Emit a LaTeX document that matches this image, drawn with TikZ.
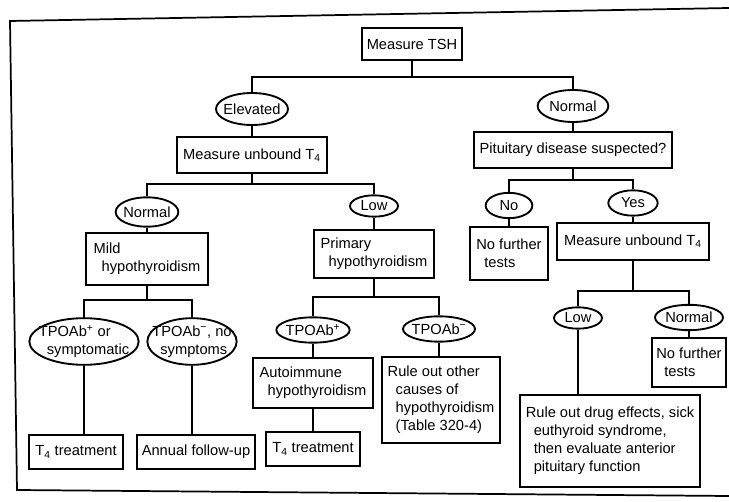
\documentclass[tikz,border=0pt]{standalone}
\usepackage{fontspec}
\setmainfont{Liberation Sans}
\usetikzlibrary{shapes.geometric}
\newcommand{\ind}{\hspace*{6pt}}

\begin{document}
\begin{tikzpicture}[x=0.75pt,y=-0.75pt,
 font=\fontsize{11}{13.5}\selectfont, line width=1.3pt,
 box/.style={draw, rectangle, align=left, inner sep=2pt, line width=1.4pt},
 oval/.style={draw, ellipse, align=left, inner xsep=-30pt, inner ysep=-15pt, line width=1.4pt}]
\useasboundingbox (0,0) rectangle (729,502);
%外枠
\draw[line width=1.3pt] (729,8) -- (10,21) -- (17,490) -- (729,496);

\node[box, minimum width=75pt, minimum height=24pt] (tsh) at (412,44) {Measure TSH};
\node[oval, minimum width=54pt, minimum height=24pt] (elev) at (252,109) {Elevated};
\node[oval, minimum width=53pt, minimum height=24pt] (nrmB) at (573,106) {Normal};
\node[box, minimum width=112pt, minimum height=27pt] (unbA) at (252,155) {Measure unbound T\textsubscript{4}};
\node[box, minimum width=148pt, minimum height=27pt] (pit) at (573,150) {Pituitary disease suspected?};

\node[oval, minimum width=47pt, minimum height=22pt] (nrmA) at (147,212) {Normal};
\node[oval, minimum width=36pt, minimum height=16pt] (lowA) at (374,206) {Low};
\node[oval, minimum width=35pt, minimum height=19pt] (no) at (509,205.5) {No};
\node[oval, minimum width=37pt, minimum height=19pt] (yes) at (633,203) {Yes};

\node[box, minimum width=91pt, minimum height=39pt] (mild) at (147,259) {Mild\\\ind hypothyroidism};
\node[box, minimum width=90pt, minimum height=36pt] (prim) at (374,254) {Primary\\\ind hypothyroidism};
\node[box, minimum width=58.5pt, minimum height=40pt] (nftA) at (509,253.5) {No further\\\ind tests};
\node[box, minimum width=114pt, minimum height=28pt] (unbB) at (633,241.5) {Measure unbound T\textsubscript{4}};

\node[oval, minimum width=82pt, minimum height=35pt] (tpoA) at (84,341.5) {TPOAb\textsuperscript{+} or\\\ind symptomatic};
\node[oval, minimum width=67pt, minimum height=35pt] (tpoB) at (192,341.5) {TPOAb\textsuperscript{−}, no\\\ind symptoms};
\node[oval, minimum width=55pt, minimum height=19pt] (tpoC) at (313,330) {TPOAb\textsuperscript{+}};
\node[oval, minimum width=54pt, minimum height=19pt] (tpoD) at (439,329) {TPOAb\textsuperscript{−}};
\node[oval, minimum width=36pt, minimum height=16pt] (lowB) at (578,318) {Low};
\node[oval, minimum width=51pt, minimum height=19pt] (nrmC) at (689,317.5) {Normal};

\node[box, minimum width=90pt, minimum height=37.5pt] (auto) at (313,383) {Autoimmune\\\ind hypothyroidism};
\node[box, minimum width=89pt, minimum height=65pt] (other) at (441,400) {Rule out other\\\ind causes of\\\ind hypothyroidism\\\ind (Table 320-4)};
\node[box, minimum width=56pt, minimum height=37pt] (nftB) at (689,362.5) {No further\\\ind tests};
\node[box, minimum width=135pt, minimum height=69pt] (drug) at (610,441) {Rule out drug effects, sick\\\ind euthyroid syndrome,\\\ind then evaluate anterior\\\ind pituitary function};

\node[box, minimum width=70.5pt, minimum height=26pt] (t4A) at (76,452) {T\textsubscript{4} treatment};
\node[box, minimum width=88.5pt, minimum height=25.5pt] (annual) at (196,452) {Annual follow-up};
\node[box, minimum width=71pt, minimum height=25pt] (t4B) at (313,449) {T\textsubscript{4} treatment};

%分岐線
\coordinate (b1) at (412,77);
\coordinate (b2) at (252,184);
\coordinate (b3) at (147,300);
\coordinate (b4) at (374,297);
\coordinate (b5) at (573,180);
\coordinate (b6) at (633,291);
\draw (tsh) -- (b1);
\draw (elev) |- (b1) -| (nrmB);
\draw (elev) -- (unbA);
\draw (unbA) -- (b2);
\draw (nrmA) |- (b2) -| (lowA);
\draw (nrmA) -- (mild);
\draw (mild) -- (b3);
\draw (tpoA) |- (b3) -| (tpoB);
\draw (tpoA) -- (tpoA |- t4A.north);
\draw (tpoB) -- (tpoB |- annual.north);
\draw (lowA) -- (prim);
\draw (prim) -- (b4);
\draw (tpoC) |- (b4) -| (tpoD);
\draw (tpoC) -- (auto);
\draw (auto) -- (t4B);
\draw (tpoD) -- (tpoD |- other.north);
\draw (nrmB) -- (pit);
\draw (pit) -- (b5);
\draw (no) |- (b5) -| (yes);
\draw (no) -- (nftA);
\draw (yes) -- (unbB);
\draw (unbB) -- (b6);
\draw (lowB) |- (b6) -| (nrmC);
\draw (lowB) -- (lowB |- drug.north);
\draw (nrmC) -- (nftB);
\end{tikzpicture}
\end{document}
